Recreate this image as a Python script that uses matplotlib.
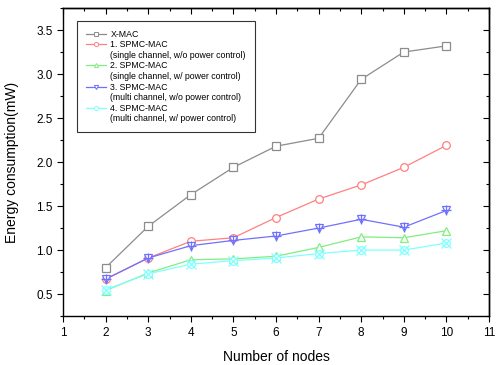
import matplotlib.pyplot as plt
from matplotlib.lines import Line2D

plt.rcParams['font.family'] = ['Liberation Sans', 'DejaVu Sans']

nodes = [2, 3, 4, 5, 6, 7, 8, 9, 10]
xmac = [0.80, 1.27, 1.63, 1.94, 2.18, 2.27, 2.94, 3.25, 3.32]
spmc1 = [0.67, 0.91, 1.10, 1.14, 1.37, 1.58, 1.74, 1.94, 2.19]
spmc2 = [0.54, 0.74, 0.89, 0.90, 0.93, 1.03, 1.15, 1.14, 1.22]
spmc3 = [0.67, 0.91, 1.05, 1.11, 1.16, 1.25, 1.35, 1.26, 1.45]
spmc4 = [0.55, 0.73, 0.84, 0.88, 0.91, 0.96, 1.00, 1.00, 1.08]

names = ['X-MAC', '1. SPMC-MAC', '2. SPMC-MAC', '3. SPMC-MAC', '4. SPMC-MAC']
notes = [None,
         '(single channel, w/o power control)',
         '(single channel, w/ power control)',
         '(multi channel, w/o power control)',
         '(multi channel, w/ power control)']

colors = ['#8c8c8c', '#ff8080', '#80ee80', '#7070ff', '#80ffff']
markers = ['s', 'o', '^', 'v', 'o']
extra = [None, None, None, '+', 'x']   # symbol drawn inside the hollow marker

fig = plt.figure(figsize=(4.99, 3.65), dpi=100)
ax = fig.add_axes([0.1263, 0.134, 0.8537, 0.844])

series = [xmac, spmc1, spmc2, spmc3, spmc4]
for vals, c, m, e in zip(series, colors, markers, extra):
    ax.plot(nodes, vals, color=c, lw=0.9, marker=m, ms=5.5,
            mfc='white', mec=c, mew=0.9)
    if e:
        ax.plot(nodes, vals, ls='none', marker=e, ms=6.5, color=c, mew=0.9)

# legend: first line carries the symbol, second line is a plain note
handles, labels = [], []
for name, note, c, m in zip(names, notes, colors, markers):
    handles.append(Line2D([], [], color=c, lw=0.9, marker=m, ms=3,
                          mfc='white', mec=c, mew=0.7))
    labels.append(name)
    if note:
        handles.append(Line2D([], [], color='none'))
        labels.append(note)
leg = ax.legend(handles, labels, loc='upper left', bbox_to_anchor=(0.033, 0.958),
                borderaxespad=0, fontsize=6.3, handlelength=2.3, handletextpad=0.5,
                labelspacing=0.18, frameon=True, fancybox=False, borderpad=1.0)
leg.get_frame().set_edgecolor('black')
leg.get_frame().set_linewidth(0.8)

ax.set_xlim(1, 11)
ax.set_ylim(0.25, 3.75)
ax.set_xticks(range(1, 12))
ax.set_yticks([0.5, 1.0, 1.5, 2.0, 2.5, 3.0, 3.5])
ax.set_yticklabels(['0.5', '1.0', '1.5', '2.0', '2.5', '3.0', '3.5'])
ax.set_xticks([x + 0.5 for x in range(1, 11)], minor=True)
ax.set_yticks([0.25 + 0.5 * i for i in range(8)], minor=True)

ax.tick_params(which='both', direction='out', labelsize=8.5, width=0.8,
               top=False, right=False)
ax.tick_params(which='major', length=4)
ax.tick_params(which='minor', length=2)

# mirrored ticks on top and right pointing into the plot
sec_x = ax.secondary_xaxis('top')
sec_x.set_xticks(range(1, 12))
sec_x.set_xticks([x + 0.5 for x in range(1, 11)], minor=True)
sec_x.tick_params(which='both', direction='in', labeltop=False, width=0.8)
sec_x.tick_params(which='major', length=4)
sec_x.tick_params(which='minor', length=2)
sec_y = ax.secondary_yaxis('right')
sec_y.set_yticks([0.5, 1.0, 1.5, 2.0, 2.5, 3.0, 3.5])
sec_y.set_yticks([0.25 + 0.5 * i for i in range(8)], minor=True)
sec_y.tick_params(which='both', direction='in', labelright=False, width=0.8)
sec_y.tick_params(which='major', length=4)
sec_y.tick_params(which='minor', length=2)

for s in ax.spines.values():
    s.set_linewidth(1.0)
sec_x.spines['top'].set_linewidth(1.0)
sec_y.spines['right'].set_linewidth(1.0)

ax.set_xlabel('Number of nodes', fontsize=10, labelpad=8)
ax.set_ylabel('Energy consumption(mW)', fontsize=10, labelpad=12)

fig.savefig('out.png', dpi=100)
